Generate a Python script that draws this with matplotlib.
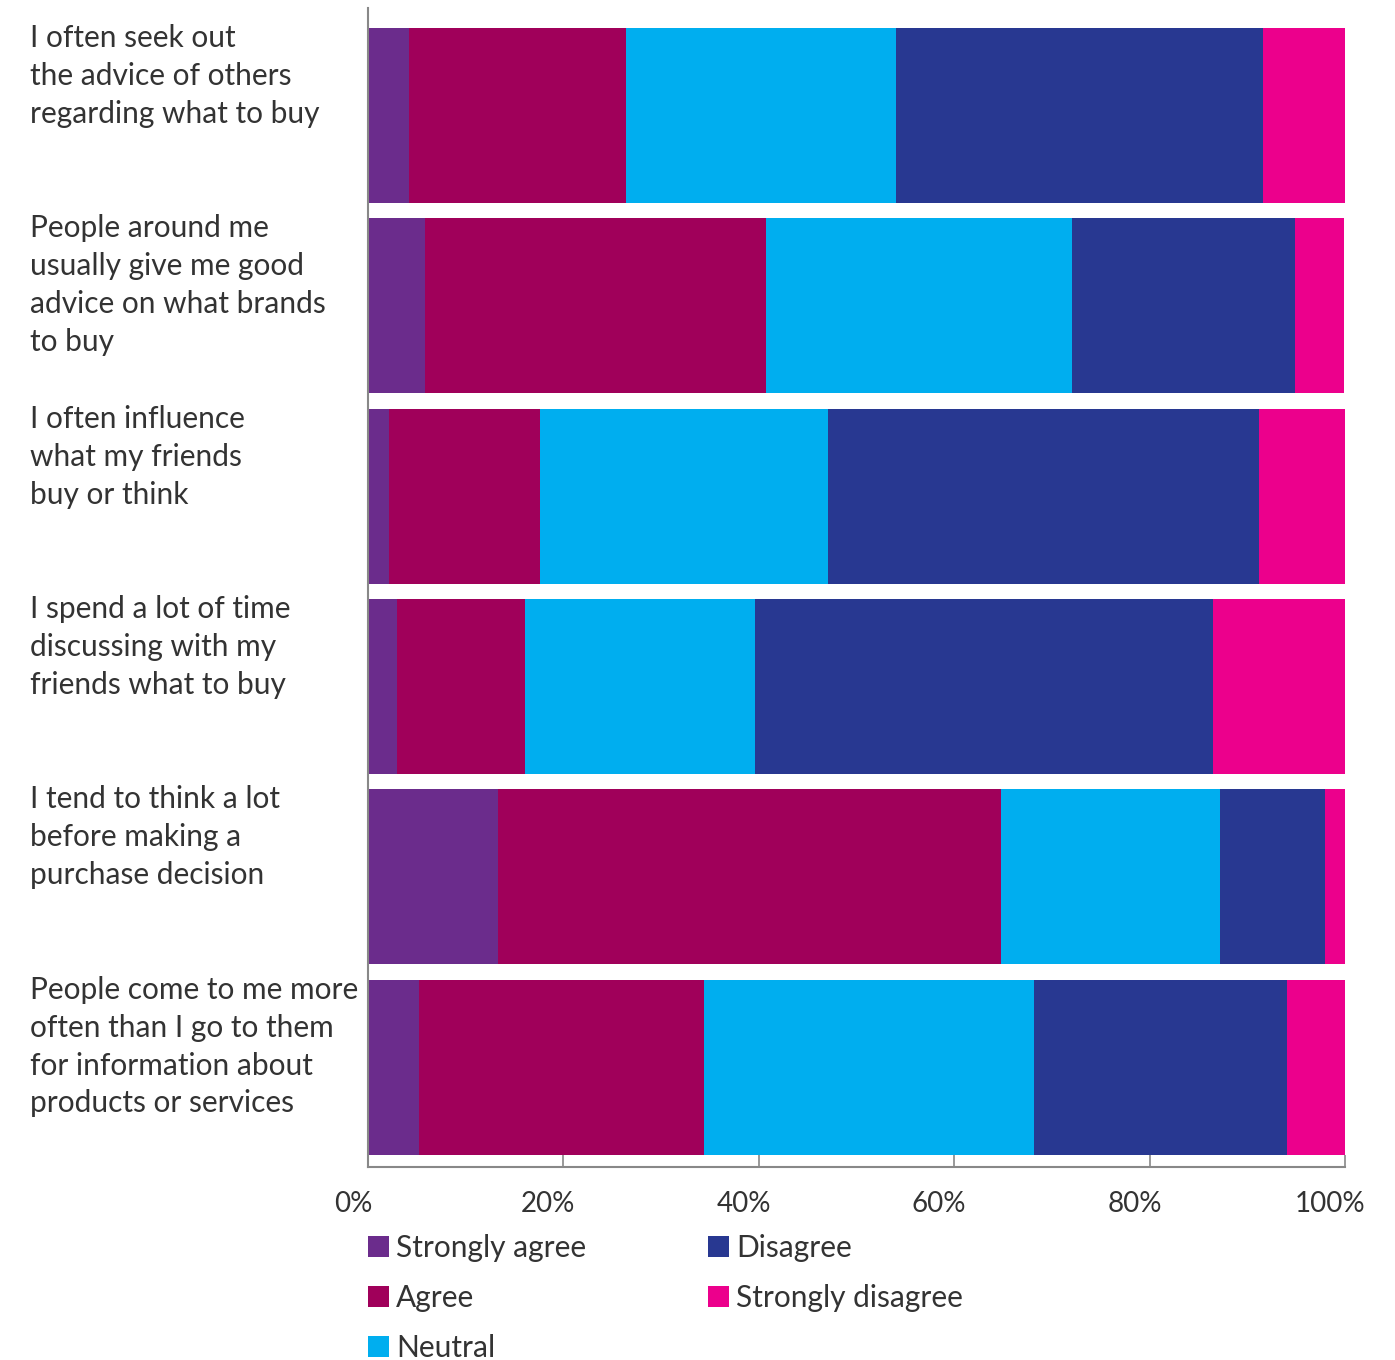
import matplotlib.pyplot as plt
import matplotlib.transforms as mtransforms
from matplotlib.patches import Patch
import numpy as np

plt.rcParams['font.family'] = ['Lato', 'DejaVu Sans']

# ---------------------------------------
# Data (percent of respondents)
# ---------------------------------------

statements = [
    "I often seek out\nthe advice of others\nregarding what to buy",
    "People around me\nusually give me good\nadvice on what brands\nto buy",
    "I often influence\nwhat my friends\nbuy or think",
    "I spend a lot of time\ndiscussing with my\nfriends what to buy",
    "I tend to think a lot\nbefore making a\npurchase decision",
    "People come to me more\noften than I go to them\nfor information about\nproducts or services",
]

strongly_agree = [4.2, 5.8, 2.1, 3.0, 13.3, 5.2]
agree = [22.2, 34.9, 15.5, 13.1, 51.5, 29.2]
neutral = [27.6, 31.4, 29.5, 23.5, 22.4, 33.8]
disagree = [37.6, 22.8, 44.1, 46.9, 10.8, 25.9]
strongly_disagree = [8.4, 5.0, 8.8, 13.5, 2.0, 5.9]

series_names = ["Strongly agree", "Agree", "Neutral", "Disagree", "Strongly disagree"]
colors = ["#6b2c8c", "#a0005a", "#00aeef", "#283891", "#ec008c"]

text_color = "#333333"
axis_color = "#888888"

# ---------------------------------------
# Chart
# ---------------------------------------

fig = plt.figure(figsize=(13.95, 13.6), dpi=100)
ax = fig.add_axes([368 / 1395, 1 - 1167 / 1360, (1345 - 368) / 1395, (1167 - 8) / 1360])

rows = np.arange(len(statements))
left = np.zeros(len(statements))
all_series = [strongly_agree, agree, neutral, disagree, strongly_disagree]

for values, name, color in zip(all_series, series_names, colors):
    ax.barh(rows, values, left=left, height=0.92, color=color, label=name)
    left = left + np.array(values)

ax.set_xlim(0, 100)
ax.set_ylim(5.525, -0.565)

# statement labels on the left, aligned with top of each bar
trans = mtransforms.blended_transform_factory(fig.transFigure, ax.transData)
for i, s in enumerate(statements):
    ax.text(30 / 1395, i - 0.48, s, transform=trans, ha="left", va="top",
            fontsize=21.5, color=text_color, linespacing=1.43)

ax.set_yticks([])
ax.set_xticks([0, 20, 40, 60, 80, 100])
ax.set_xticklabels(["0%", "20%", "40%", "60%", "80%", "100%"])

ax.tick_params(axis="x", direction="in", length=9, width=1.2, color=axis_color,
               labelsize=20, labelcolor=text_color, pad=17)
offset = mtransforms.ScaledTranslation(-15 / 100, 0, fig.dpi_scale_trans)
for lbl in ax.get_xticklabels():
    lbl.set_transform(lbl.get_transform() + offset)

for side in ["top", "right"]:
    ax.spines[side].set_visible(False)
for side in ["left", "bottom"]:
    ax.spines[side].set_color(axis_color)
    ax.spines[side].set_linewidth(1.5)

# ---------------------------------------
# Legend (two columns)
# ---------------------------------------

handles = [Patch(facecolor=c, label=n) for c, n in zip(colors, series_names)]

legend_style = dict(frameon=False, fontsize=21.5, handlelength=0.7, handleheight=0.7,
                    handletextpad=0.25, labelspacing=0.74, borderpad=0, borderaxespad=0,
                    labelcolor=text_color, loc="upper left")

leg1 = fig.legend(handles=handles[:3], bbox_to_anchor=(368 / 1395, 1 - 1234 / 1360),
                  **legend_style)
leg2 = fig.legend(handles=handles[3:], bbox_to_anchor=(708 / 1395, 1 - 1234 / 1360),
                  **legend_style)

plt.savefig("out.png", dpi=100)
plt.close()
